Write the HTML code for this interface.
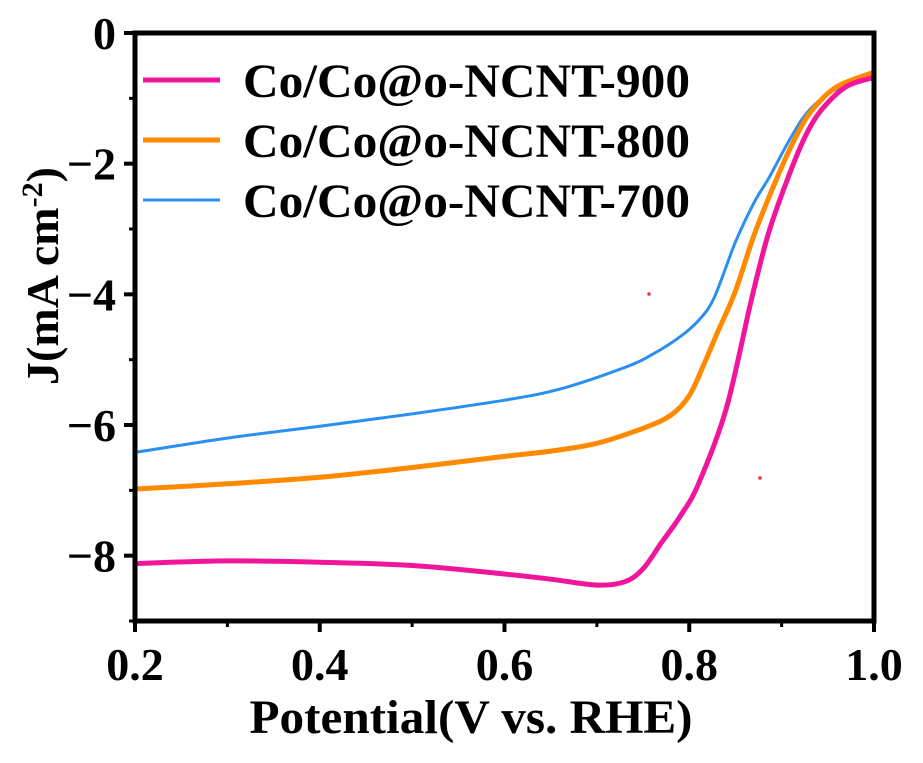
<!DOCTYPE html>
<html><head><meta charset="utf-8"><style>
body{margin:0;background:#fff}
svg text{font-family:"Liberation Serif",serif;font-weight:bold;fill:#000}
</style></head><body>
<svg id="chart" width="923" height="758" viewBox="0 0 923 758" xmlns="http://www.w3.org/2000/svg">
<g id="series"></g>
<rect x="135" y="33" width="739" height="588" fill="none" stroke="#000" stroke-width="5"/>
<g id="axes"></g>
<circle cx="649" cy="294" r="1.8" fill="#e33"/>
<circle cx="760" cy="478" r="1.8" fill="#e33"/>
<g>
<line x1="143" y1="80" x2="220" y2="80" stroke="#f0169b" stroke-width="5"/>
<text x="243" y="97" font-size="48" textLength="447" lengthAdjust="spacingAndGlyphs">Co/Co@o-NCNT-900</text>
<line x1="143" y1="140" x2="220" y2="140" stroke="#ff8a00" stroke-width="5"/>
<text x="243" y="157" font-size="48" textLength="447" lengthAdjust="spacingAndGlyphs">Co/Co@o-NCNT-800</text>
<line x1="143" y1="200" x2="220" y2="200" stroke="#2a8ff0" stroke-width="3"/>
<text x="243" y="217" font-size="48" textLength="447" lengthAdjust="spacingAndGlyphs">Co/Co@o-NCNT-700</text>
</g>
<text x="471" y="733" font-size="48" text-anchor="middle" textLength="443" lengthAdjust="spacingAndGlyphs">Potential(V vs. RHE)</text>
<text transform="translate(58,276) rotate(-90)" font-size="46" text-anchor="middle">J(mA cm<tspan font-size="30" dy="-16">-2</tspan><tspan dy="16">)</tspan></text>
</svg>
<script>
const xTicks=[0.2,0.4,0.6,0.8,1.0];
const yTicks=[0,-2,-4,-6,-8];
const x900=[0.2,0.3,0.4,0.5,0.6,0.65,0.7,0.73,0.75,0.77,0.79,0.81,0.84,0.867,0.885,0.906,0.925,0.943,0.97,1.0];
const s900=[-8.12,-8.08,-8.1,-8.15,-8.28,-8.36,-8.45,-8.4,-8.2,-7.8,-7.4,-6.9,-5.75,-4.1,-3.1,-2.25,-1.6,-1.18,-0.82,-0.68];
const x800=[0.2,0.3,0.4,0.5,0.6,0.65,0.7,0.75,0.78,0.8,0.815,0.83,0.85,0.87,0.894,0.915,0.933,0.96,1.0];
const s800=[-6.98,-6.9,-6.8,-6.65,-6.48,-6.4,-6.28,-6.05,-5.85,-5.55,-5.1,-4.6,-3.95,-3.1,-2.25,-1.6,-1.18,-0.82,-0.6];
const x700=[0.2,0.3,0.4,0.5,0.6,0.66,0.73,0.76,0.79,0.81,0.827,0.85,0.87,0.887,0.91,0.93,0.96,1.0];
const s700=[-6.42,-6.2,-6.02,-5.83,-5.62,-5.45,-5.12,-4.92,-4.65,-4.4,-4.05,-3.2,-2.6,-2.2,-1.6,-1.18,-0.85,-0.7];
const X=v=>135+(v-0.2)/0.8*739;
const Y=v=>33+(-v)/9*588;
const NS="http://www.w3.org/2000/svg";
const ax=document.getElementById('axes'),sg=document.getElementById('series');
function mk(t,a,p){const e=document.createElementNS(NS,t);for(const k in a)e.setAttribute(k,a[k]);p.appendChild(e);return e;}
xTicks.forEach(v=>{const l=mk('line',{x1:X(v),x2:X(v),y1:621,y2:632,stroke:'#000','stroke-width':4},ax);


const t=mk('text',{x:X(v),y:680,'font-size':46,'text-anchor':'middle'},ax);t.textContent=v.toFixed(1);

});
for(let i=0;i<4;i++){const v=0.3+0.2*i;const l=mk('line',{x1:X(v),x2:X(v),y1:621,y2:627,stroke:'#000','stroke-width':3},ax);

}
yTicks.forEach(v=>{const l=mk('line',{x1:124,x2:135,y1:Y(v),y2:Y(v),stroke:'#000','stroke-width':4},ax);


const t=mk('text',{x:116,y:Y(v)+16,'font-size':46,'text-anchor':'end'},ax);t.textContent=v===0?'0':'\u2212'+(-v);

});
for(let v=-1;v>=-9;v-=2){const l=mk('line',{x1:129,x2:135,y1:Y(v),y2:Y(v),stroke:'#000','stroke-width':3},ax);

}
function line(xs,d,c,w,n){const P=d.map((v,i)=>[X(xs[i]),Y(v)]);
let p='M'+P[0][0].toFixed(1)+','+P[0][1].toFixed(1);
for(let i=0;i<P.length-1;i++){const a=P[Math.max(i-1,0)],b=P[i],c2=P[i+1],e=P[Math.min(i+2,P.length-1)];
const c1x=b[0]+(c2[0]-a[0])/6,c1y=b[1]+(c2[1]-a[1])/6,c3x=c2[0]-(e[0]-b[0])/6,c3y=c2[1]-(e[1]-b[1])/6;
p+='C'+c1x.toFixed(1)+','+c1y.toFixed(1)+' '+c3x.toFixed(1)+','+c3y.toFixed(1)+' '+c2[0].toFixed(1)+','+c2[1].toFixed(1);}
const el=mk('path',{d:p,fill:'none',stroke:c,'stroke-width':w,'stroke-linejoin':'round'},sg);

}
line(x700,s700,'#2a8ff0',3,'series-700');
line(x800,s800,'#ff8a00',5,'series-800');
line(x900,s900,'#f0169b',5,'series-900');
</script>
</body></html>
